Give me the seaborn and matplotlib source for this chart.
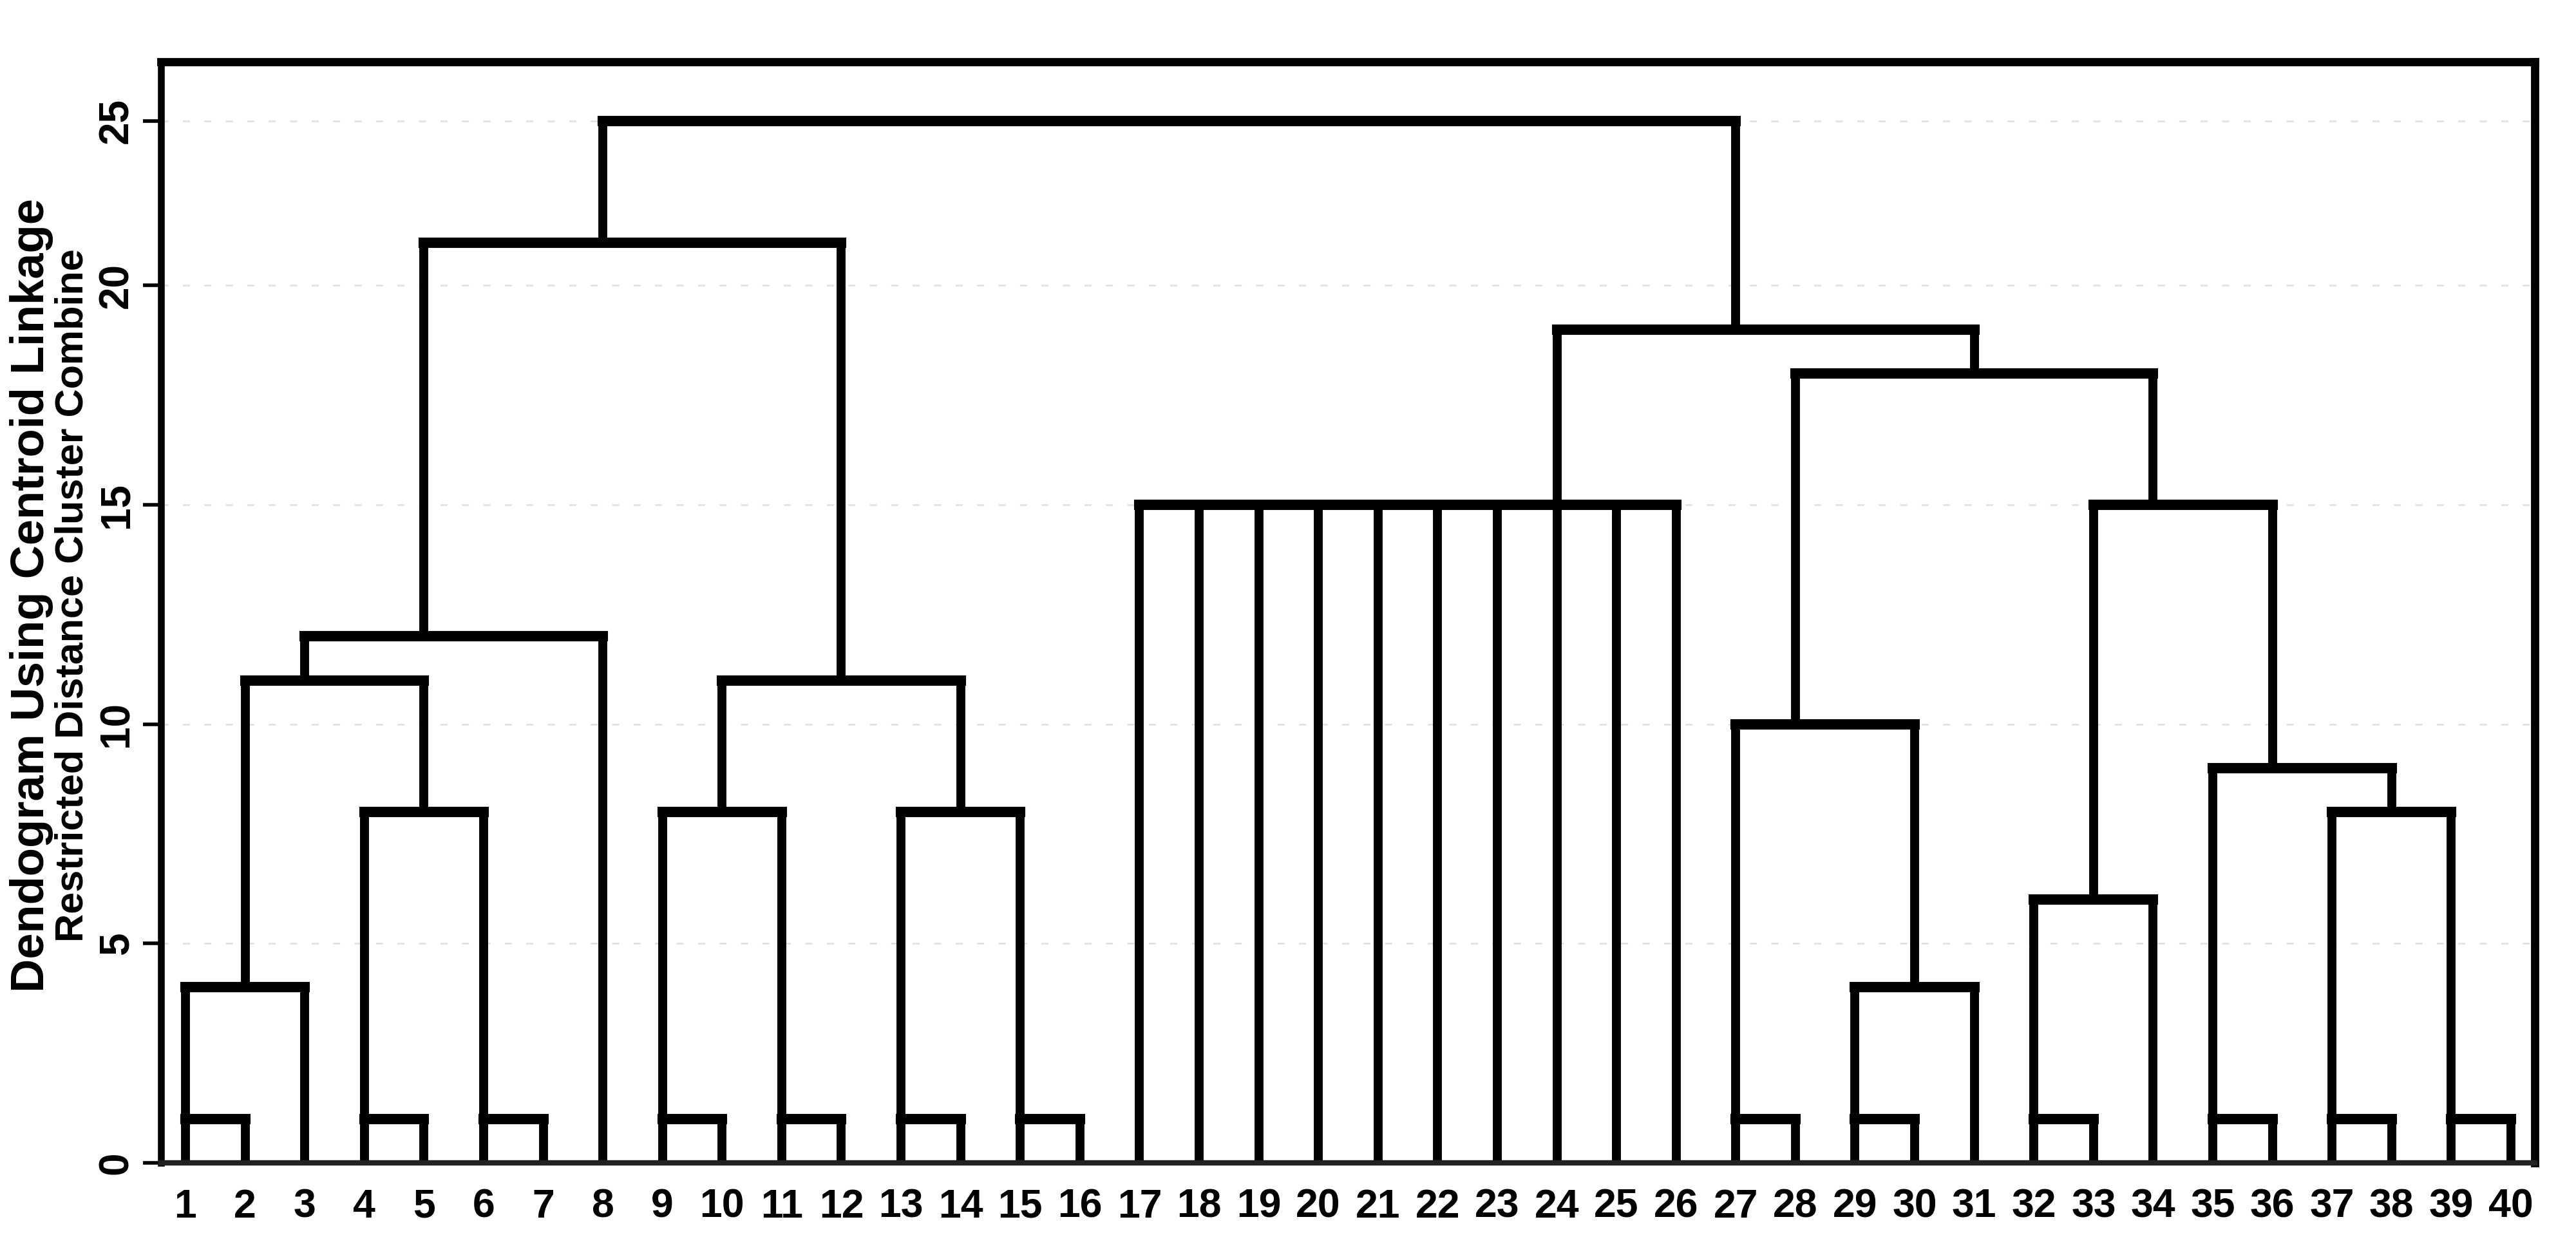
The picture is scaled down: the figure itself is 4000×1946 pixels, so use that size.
import numpy as np
import pandas as pd
import matplotlib
matplotlib.use("Agg")
import matplotlib.pyplot as plt
import seaborn as sns

# %%
# leaves and cluster merges
leaves = list(range(1, 41))
leaf_labels = [str(i) for i in leaves]

merge_names = ["m1", "m2", "m3", "m4", "m5", "m6", "m7", "m8", "m9", "m10",
               "m11", "m12", "m13", "m14", "m15", "m16", "m17", "m18", "m19", "m20",
               "m21", "m22", "m23", "m24", "m25", "m26", "m27", "m28", "m29", "m30", "m31"]
merge_children = [
    [1, 2], ["m1", 3], [4, 5], [6, 7], ["m3", "m4"], ["m2", "m5"], ["m6", 8],
    [9, 10], [11, 12], ["m8", "m9"], [13, 14], [15, 16], ["m11", "m12"],
    ["m10", "m13"], ["m7", "m14"],
    [17, 18, 19, 20, 21, 22, 23, 24, 25, 26],
    [27, 28], [29, 30], ["m18", 31], ["m17", "m19"],
    [32, 33], ["m21", 34], [35, 36], [37, 38], [39, 40], ["m24", "m25"],
    ["m23", "m26"], ["m22", "m27"], ["m20", "m28"], ["m16", "m29"],
    ["m15", "m30"],
]
merge_heights = [1, 4, 1, 1, 8, 11, 12, 1, 1, 8, 1, 1, 8, 11, 21.3,
                 15, 1, 1, 4, 10, 1, 6, 1, 1, 1, 8, 9, 15, 18, 19, 25]
# leaf where each cluster's stem rises
merge_anchor = [1, 2, 4, 6, 5, 3, 5, 9, 11, 10, 13, 15, 14, 12, 8,
                24, 27, 29, 30, 28, 32, 33, 35, 37, 39, 38, 36, 34, 31, 27, 27]

y_ticks = [0, 5, 10, 15, 20, 25]

# %%
anchor = {leaf: leaf for leaf in leaves}
height = {leaf: 0 for leaf in leaves}
h_rows, v_rows = [], []
for name, kids, h, a in zip(merge_names, merge_children, merge_heights, merge_anchor):
    xs = [anchor[k] for k in kids]
    h_rows += [(name, min(xs), h), (name, max(xs), h)]
    for k in kids:
        seg = f"{name}_{k}"
        v_rows += [(seg, anchor[k], height[k]), (seg, anchor[k], h)]
    anchor[name] = a
    height[name] = h

h_df = pd.DataFrame(h_rows, columns=["seg", "x", "y"])
v_df = pd.DataFrame(v_rows, columns=["seg", "x", "y"])

# %%
sns.set_theme(style="white")
plt.rcParams["font.family"] = ["Liberation Sans", "DejaVu Sans"]
plt.rcParams["text.color"] = "black"
plt.rcParams["xtick.color"] = "black"
plt.rcParams["ytick.color"] = "black"

fig = plt.figure(figsize=(20, 9.73), dpi=200)
ax = fig.add_axes([0.0625, 0.072, 0.9215, 0.8787])

sns.lineplot(data=v_df, x="x", y="y", units="seg", estimator=None, sort=False,
             color="black", linewidth=5, solid_capstyle="butt", ax=ax, legend=False)
sns.lineplot(data=h_df, x="x", y="y", units="seg", estimator=None, sort=False,
             color="black", linewidth=5.8, solid_capstyle="projecting", ax=ax, legend=False)

# axis is squeezed above 20
def fwd(y):
    y = np.asarray(y, dtype=float)
    return np.where(y <= 20, y, 20 + (y - 20) * 0.75)

def inv(z):
    z = np.asarray(z, dtype=float)
    return np.where(z <= 20, z, 20 + (z - 20) / 0.75)

ax.set_yscale("function", functions=(fwd, inv))
ax.set_ylim(0, 26.8)
ax.set_xlim(0.59, 40.4)

ax.set_yticks(y_ticks, labels=[str(t) for t in y_ticks], rotation=90, va="center",
              fontsize=23, fontweight="bold", color="black")
ax.set_xticks(leaves, labels=leaf_labels, fontsize=22.5, fontweight="bold", color="black")
ax.tick_params(axis="y", length=10, width=2, direction="out", pad=4, color="black", left=True)
ax.tick_params(axis="x", length=0, pad=14)
ax.set_xlabel("")
ax.set_ylabel("")

ax.grid(axis="y", color="#e2e2e2", linestyle=(0, (4, 8)), linewidth=1)
ax.set_axisbelow(True)

for side, lw, col in [("top", 4.6, "black"), ("right", 4.6, "black"),
                      ("left", 3.8, "black"), ("bottom", 3, "#222222")]:
    ax.spines[side].set_visible(True)
    ax.spines[side].set_linewidth(lw)
    ax.spines[side].set_color(col)

fig.text(0.0122, 0.525, "Dendogram Using Centroid Linkage", rotation=90,
         ha="center", va="center", fontsize=26, fontweight="bold", color="black")
fig.text(0.0282, 0.525, "Restricted Distance Cluster Combine", rotation=90,
         ha="center", va="center", fontsize=22, fontweight="bold", color="black")

fig.savefig("out.png", dpi=200)
